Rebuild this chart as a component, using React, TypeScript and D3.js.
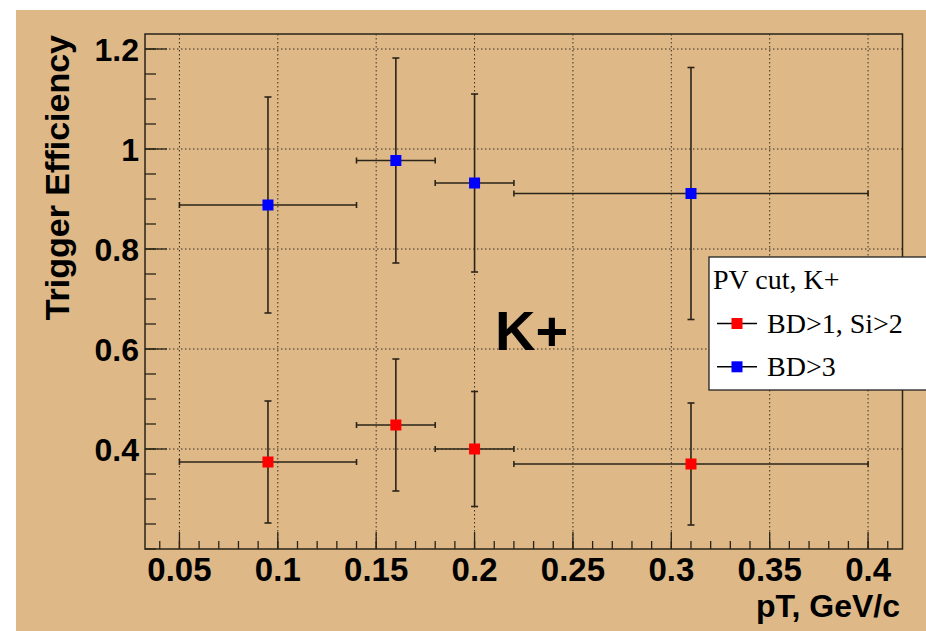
import React from "react";
import * as d3 from "d3";

// ---- data ----
const binLow = [0.05, 0.14, 0.18, 0.22];
const binHigh = [0.14, 0.18, 0.22, 0.4];
const binCenter = [0.095, 0.16, 0.2, 0.31];
const redEff = [0.374, 0.448, 0.4, 0.37];
const redErr = [0.122, 0.132, 0.115, 0.122];
const blueEff = [0.888, 0.977, 0.932, 0.911];
const blueErr = [0.216, 0.205, 0.178, 0.252];
const xTickLabels = ["0.05", "0.1", "0.15", "0.2", "0.25", "0.3", "0.35", "0.4"];
const yTickLabels = ["0.4", "0.6", "0.8", "1", "1.2"];
const legendTitle = "PV cut, K+";
const seriesNames = ["BD>1, Si>2", "BD>3"];
const seriesColors = ["#ff0000", "#0000ff"];

const W = 926;
const H = 631;
const frame = { left: 145, right: 902.5, top: 34, bottom: 549 };
const sans = "'Liberation Sans', Arial, Helvetica, sans-serif";
const serif = "'Liberation Serif', 'Times New Roman', serif";

export default function App() {
  const x = d3.scaleLinear().domain([0.0325, 0.4175]).range([frame.left, frame.right]);
  const y = d3.scaleLinear().domain([0.2, 1.23]).range([frame.bottom, frame.top]);

  const xMajor = xTickLabels.map((t) => +t);
  const xMinor = d3.range(4, 42).map((i) => i / 100).filter((v) => v >= 0.0325 && v <= 0.4175);
  const yMajor = yTickLabels.map((t) => +t);
  const yMinor = d3.range(4, 25).map((i) => i * 0.05).filter((v) => v >= 0.2 && v <= 1.23);

  const lineColor = "#2a2418";
  const series = [
    { vals: redEff, errs: redErr, color: seriesColors[0] },
    { vals: blueEff, errs: blueErr, color: seriesColors[1] },
  ];
  const ms = 11;

  return (
    <svg
      width={W}
      height={H}
      style={{ position: "absolute", left: 0, top: 0, background: "#fff" }}
    >
      <rect x={16} y={10} width={W - 16} height={H - 10} fill="#deb887" />

      {/* grid */}
      <g stroke="#3a3020" strokeWidth={1} strokeDasharray="1.5,2.5" fill="none">
        {xMajor.map((v) => (
          <line key={"gx" + v} x1={x(v)} x2={x(v)} y1={frame.top} y2={frame.bottom} />
        ))}
        {yMajor.map((v) => (
          <line key={"gy" + v} x1={frame.left} x2={frame.right} y1={y(v)} y2={y(v)} />
        ))}
      </g>

      {/* frame */}
      <rect
        x={frame.left}
        y={frame.top}
        width={frame.right - frame.left}
        height={frame.bottom - frame.top}
        fill="none"
        stroke={lineColor}
        strokeWidth={1.5}
      />

      {/* ticks */}
      <g stroke={lineColor} strokeWidth={1.3}>
        {xMinor.map((v) => (
          <line key={"xm" + v} x1={x(v)} x2={x(v)} y1={frame.bottom} y2={frame.bottom - 8} />
        ))}
        {xMajor.map((v) => (
          <line key={"xM" + v} x1={x(v)} x2={x(v)} y1={frame.bottom} y2={frame.bottom - 17} />
        ))}
        {yMinor.map((v) => (
          <line key={"ym" + v} x1={frame.left} x2={frame.left + 11} y1={y(v)} y2={y(v)} />
        ))}
        {yMajor.map((v) => (
          <line key={"yM" + v} x1={frame.left} x2={frame.left + 22} y1={y(v)} y2={y(v)} />
        ))}
      </g>

      {/* tick labels */}
      <g fontFamily={sans} fontWeight="bold" fill="#000">
        {xTickLabels.map((t) => (
          <text key={"xl" + t} x={x(+t)} y={581} fontSize={33} textAnchor="middle">
            {t}
          </text>
        ))}
        {yTickLabels.map((t) => (
          <text
            key={"yl" + t}
            x={139}
            y={y(+t) + 11.5}
            fontSize={32}
            textAnchor="end"
          >
            {t}
          </text>
        ))}
        <text x={900} y={617} fontSize={32} textAnchor="end">
          pT, GeV/c
        </text>
        <text
          transform={`translate(69,35) rotate(-90)`}
          fontSize={34}
          textAnchor="end"
        >
          Trigger Efficiency
        </text>
        <text x={495} y={350} fontSize={56}>
          K+
        </text>
      </g>

      {/* data */}
      {series.map((s, si) => (
        <g key={"s" + si}>
          <g stroke={lineColor} strokeWidth={1.6}>
            {s.vals.map((v, i) => {
              const cx = x(binCenter[i]);
              const cy = y(v);
              const yt = y(v + s.errs[i]);
              const yb = y(v - s.errs[i]);
              const xl = x(binLow[i]);
              const xr = x(binHigh[i]);
              return (
                <g key={i}>
                  <line x1={xl} x2={xr} y1={cy} y2={cy} />
                  <line x1={xl} x2={xl} y1={cy - 3} y2={cy + 3} />
                  <line x1={xr} x2={xr} y1={cy - 3} y2={cy + 3} />
                  <line x1={cx} x2={cx} y1={yt} y2={yb} />
                  <line x1={cx - 3.5} x2={cx + 3.5} y1={yt} y2={yt} />
                  <line x1={cx - 3.5} x2={cx + 3.5} y1={yb} y2={yb} />
                </g>
              );
            })}
          </g>
          {s.vals.map((v, i) => (
            <rect
              key={"m" + i}
              x={x(binCenter[i]) - ms / 2}
              y={y(v) - ms / 2}
              width={ms}
              height={ms}
              fill={s.color}
            />
          ))}
        </g>
      ))}

      {/* legend */}
      <rect x={709} y={257} width={240} height={133} fill="#fff" stroke="#222" strokeWidth={1.3} />
      <text x={713} y={289} fontFamily={serif} fontSize={28} fill="#000">
        {legendTitle}
      </text>
      {seriesNames.map((n, i) => {
        const ly = 323.5 + i * 43.3;
        return (
          <g key={"lg" + i}>
            <line x1={717} x2={757} y1={ly} y2={ly} stroke="#000" strokeWidth={1.5} />
            <rect x={737 - ms / 2} y={ly - ms / 2} width={ms} height={ms} fill={seriesColors[i]} />
            <text x={767} y={ly + 9} fontFamily={serif} fontSize={28} fill="#000">
              {n}
            </text>
          </g>
        );
      })}
    </svg>
  );
}
